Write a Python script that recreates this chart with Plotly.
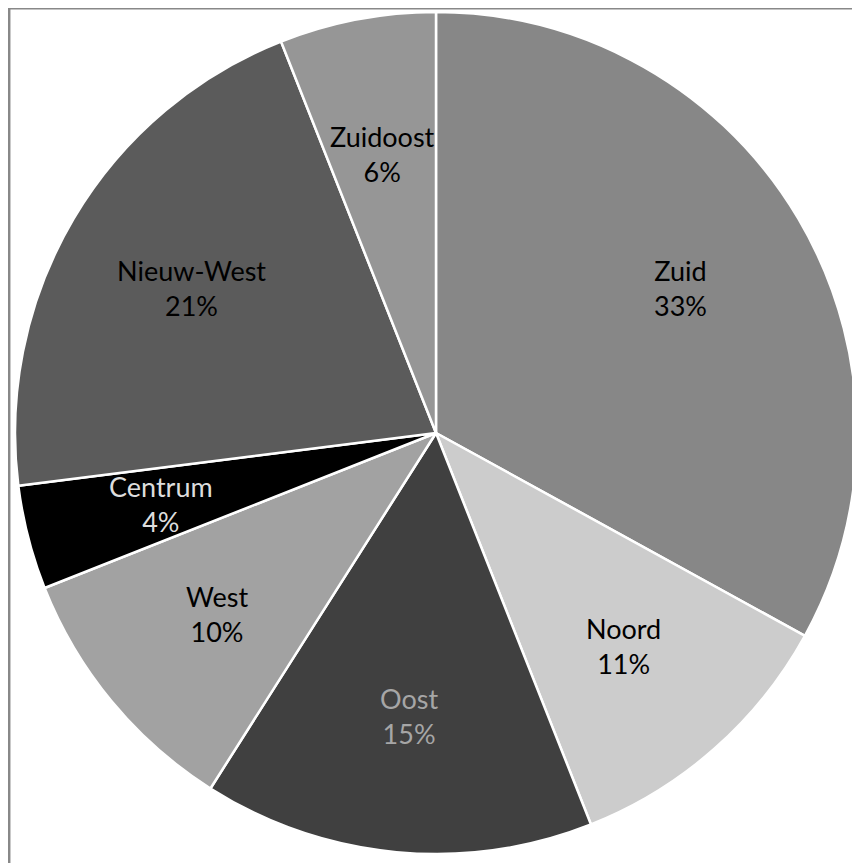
import math
import plotly.graph_objects as go

labels = ["Zuid", "Noord", "Oost", "West", "Centrum", "Nieuw-West", "Zuidoost"]
values = [33, 11, 15, 10, 4, 21, 6]
colors = ["#878787", "#cccccc", "#404040", "#a2a2a2", "#000000", "#5b5b5b", "#969696"]
text_colors = ["#000000", "#000000", "#a6a6a6", "#000000", "#dddddd", "#000000", "#000000"]

# page body has an 8px margin, so the figure is placed at (8, 8) in the window
W, H = 852, 855
cx, cy, r = 428, 425, 421  # pixel geometry of the pie inside the figure
label_frac = 0.675
font_family = "Lato, 'Noto Sans', sans-serif"

fig = go.Figure(go.Pie(
    labels=labels, values=values, sort=False, direction="clockwise", rotation=0,
    marker=dict(colors=colors, line=dict(color="#ffffff", width=2.5)),
    textinfo="none", hoverinfo="label+percent", showlegend=False,
    domain=dict(x=[(cx - r) / W, (cx + r) / W], y=[(H - cy - r) / H, (H - cy + r) / H]),
))

total = sum(values)
acc = 0
annotations = []
for lab, v, tc in zip(labels, values, text_colors):
    mid = (acc + v / 2) / total * 2 * math.pi
    acc += v
    px = cx + label_frac * r * math.sin(mid)
    py = cy - label_frac * r * math.cos(mid)
    annotations.append(dict(
        x=px / W, y=1 - py / H, xref="paper", yref="paper", showarrow=False,
        text=f"{lab}<br>{round(v / total * 100)}%",
        font=dict(family=font_family, size=27, color=tc),
        xanchor="center", yanchor="middle",
    ))

fig.update_layout(
    width=W, height=H, margin=dict(l=0, r=0, t=0, b=0),
    paper_bgcolor="#ffffff", plot_bgcolor="#ffffff",
    annotations=annotations,
    shapes=[dict(type="rect", xref="paper", yref="paper",
                 x0=1.2 / W, x1=1.02, y0=-0.02, y1=1 - 0.2 / H,
                 line=dict(color="#888888", width=2.5), layer="below")],
)
fig.write_html("out.html")
